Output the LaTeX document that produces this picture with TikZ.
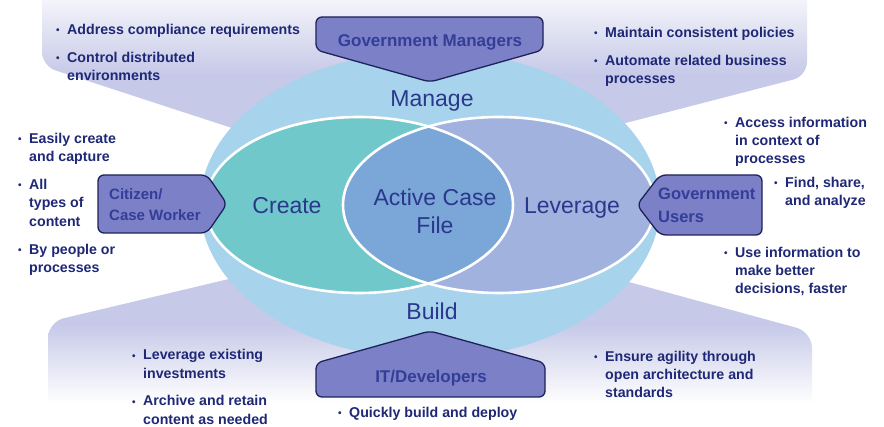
\documentclass[tikz,border=0pt]{standalone}
\usepackage{fontspec}
\setmainfont{Liberation Sans}
\definecolor{lav}{RGB}{198,201,232}
\definecolor{lavtop}{RGB}{246,246,251}
\definecolor{bigblue}{RGB}{168,211,236}
\definecolor{createc}{RGB}{112,200,202}
\definecolor{leverc}{RGB}{162,178,222}
\definecolor{lensc}{RGB}{122,166,216}
\definecolor{pentfill}{RGB}{123,128,199}
\definecolor{pentdraw}{RGB}{30,34,90}
\definecolor{bultext}{RGB}{30,40,118}
\definecolor{penttext}{RGB}{52,62,152}
\definecolor{bigtext}{RGB}{42,56,140}
\pgfdeclareverticalshading{topband}{100bp}{color(0bp)=(lav); color(51bp)=(lav); color(75bp)=(lavtop); color(100bp)=(lavtop)}
\pgfdeclareverticalshading{botband}{100bp}{color(0bp)=(white); color(26bp)=(white); color(52bp)=(lav); color(100bp)=(lav)}
\newcommand{\bu}{\makebox[11pt][l]{\fontsize{10}{10}\selectfont\raisebox{0.8pt}{•}}}
\newcommand{\ii}{\hspace*{11pt}}
\begin{document}
\begin{tikzpicture}[x=1pt,y=-1pt,
  bul/.style={anchor=north west, inner sep=0pt, align=left, text=bultext, font=\fontsize{14.2}{18.4}\selectfont\bfseries},
  pent/.style={fill=pentfill, draw=pentdraw, line width=1.3pt, rounded corners=6pt},
  plabel/.style={inner sep=0pt, text=penttext, font=\fontsize{17}{21}\selectfont\bfseries},
  big/.style={inner sep=0pt, text=bigtext, font=\fontsize{23}{28}\selectfont},
  ring/.style={draw=white, line width=2.6pt}]

\useasboundingbox (0,0) rectangle (884,427);
\fill[white] (0,0) rectangle (884,427);

% translucent bands
\shade[shading=topband] (42,-4) [rounded corners=14pt] -- (42,66) -- (330,160) [sharp corners] -- (560,140) [rounded corners=14pt] -- (807,76) [sharp corners] -- (807,-4) -- cycle;
\shade[shading=botband] (48,406) [rounded corners=16pt] -- (48,322) -- (330,255) [sharp corners] -- (530,255) [rounded corners=16pt] -- (812,332) [sharp corners] -- (812,406) -- cycle;

% ellipses
\fill[bigblue] (430,205) ellipse [x radius=230pt, y radius=154pt];
\fill[createc] (359,205) ellipse [x radius=154pt, y radius=88pt];
\fill[leverc] (499,205) ellipse [x radius=156pt, y radius=88pt];
\begin{scope}
  \clip (359,205) ellipse [x radius=154pt, y radius=88pt];
  \fill[lensc] (499,205) ellipse [x radius=156pt, y radius=88pt];
\end{scope}
\draw[ring] (359,205) ellipse [x radius=154pt, y radius=88pt];
\draw[ring] (499,205) ellipse [x radius=156pt, y radius=88pt];

% pentagons
\draw[pent] (316,17) -- (543,17) -- (543,50) -- (430,82) -- (316,50) -- cycle;
\draw[pent] (316,397) -- (545,397) -- (545,363) -- (430,331) -- (316,363) -- cycle;
\draw[pent] (98,175) -- (207,175) -- (227,204) -- (207,233) -- (98,233) -- cycle;
\draw[pent] (637,205) -- (660,175) -- (762,175) -- (762,235) -- (660,235) -- cycle;

\node[plabel, anchor=base] (gm) at (430,47) {Government Managers};
\node[plabel, anchor=base] (it) at (431,383) {IT/Developers};
\node[plabel, anchor=north west, align=left, font=\fontsize{15}{21}\selectfont\bfseries] (cw) at (109,188.2) {Citizen/\\Case Worker};
\node[plabel, anchor=north west, align=left, font=\fontsize{16.5}{23}\selectfont\bfseries] (gu) at (658,188) {Government\\Users};

% big labels
\node[big, anchor=base] (manage) at (432,107) {Manage};
\node[big, anchor=base] (create) at (287,214) {Create};
\node[big, anchor=north, align=center] (acf) at (435,188.5) {Active Case\\File};
\node[big, anchor=base] (lev) at (572,214) {Leverage};
\node[big, anchor=base] (build) at (432,320) {Build};

% bullet texts
\node[bul] (tl) at (56,23.7) {\bu Address compliance requirements\\[9.6pt]\bu Control distributed\\\ii environments};
\node[bul] (tr) at (594,26.7) {\bu Maintain consistent policies\\[9.6pt]\bu Automate related business\\\ii processes};
\node[bul] (r1) at (724,116.7) {\bu Access information\\\ii in context of\\\ii processes};
\node[bul] (r2) at (774,176.7) {\bu Find, share,\\\ii and analyze};
\node[bul] (r3) at (724,246.7) {\bu Use information to\\\ii make better\\\ii decisions, faster};
\node[bul] (lf) at (18,132.7) {\bu Easily create\\\ii and capture\\[9.6pt]\bu All\\\ii types of\\\ii content\\[9.6pt]\bu By people or\\\ii processes};
\node[bul] (bl) at (132,349.5) {\bu Leverage existing\\\ii investments\\[9.2pt]\bu Archive and retain\\\ii content as needed};
\node[bul] (bm) at (338,407.2) {\bu Quickly build and deploy};
\node[bul] (br) at (594,350.7) {\bu Ensure agility through\\\ii open architecture and\\\ii standards};
\end{tikzpicture}
\end{document}
